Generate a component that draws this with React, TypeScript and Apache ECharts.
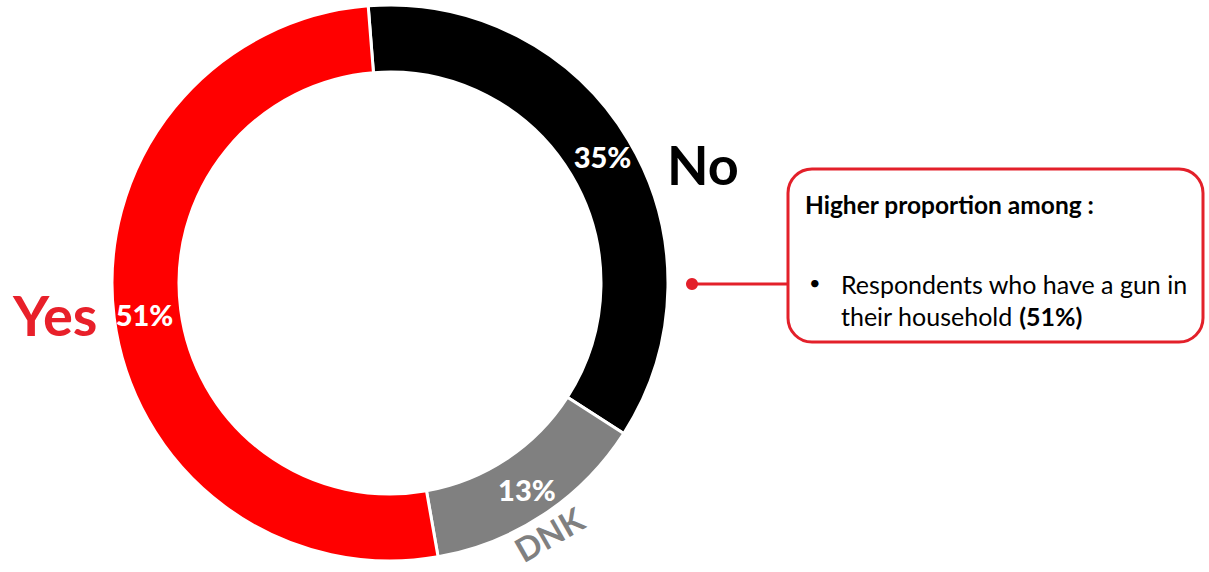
import React, { useEffect, useRef } from "react";
import * as echarts from "echarts";

const categories = ["No", "DNK", "Yes"];
const values = [35, 13, 51];
const sliceColors = ["#000000", "#808080", "#FF0000"];
const nameColors = ["#000000", "#808080", "#E8202A"];
const calloutTitle = "Higher proportion among :";
const calloutLine1 = "Respondents who have a gun in";
const calloutLine2a = "their household ";
const calloutLine2b = "(51%)";

export default function App() {
  const ref = useRef<HTMLDivElement>(null);
  useEffect(() => {
    document.body.style.margin = "0";
    const chart = echarts.init(ref.current!, undefined, { renderer: "svg" });
    const font = "Lato, 'Open Sans', sans-serif";
    const red = "#E3202A";
    chart.setOption({
      animation: false,
      backgroundColor: "#ffffff",
      series: [
        {
          type: "pie",
          center: [390, 283],
          radius: [211, 278],
          startAngle: 94.5,
          clockwise: true,
          silent: true,
          label: {
            show: true,
            position: "inside",
            formatter: "{c}%",
            color: "#ffffff",
            fontWeight: 900,
            fontSize: 29,
            fontFamily: font,
          },
          labelLine: { show: false },
          itemStyle: { borderColor: "#ffffff", borderWidth: 3 },
          data: categories.map((c, i) => ({
            name: c,
            value: values[i],
            itemStyle: { color: sliceColors[i] },
          })),
        },
      ],
      graphic: [
        {
          type: "text",
          x: 667,
          y: 164,
          style: {
            text: categories[0],
            fill: nameColors[0],
            font: `bold 54px ${font}`,
            align: "left",
            verticalAlign: "middle",
          },
        },
        {
          type: "text",
          x: 549,
          y: 534,
          rotation: 0.52,
          style: {
            text: categories[1],
            fill: nameColors[1],
            font: `bold 33px ${font}`,
            align: "center",
            verticalAlign: "middle",
          },
        },
        {
          type: "text",
          x: 13,
          y: 314,
          style: {
            text: categories[2],
            fill: nameColors[2],
            font: `bold 56px ${font}`,
            align: "left",
            verticalAlign: "middle",
          },
        },
        {
          type: "line",
          shape: { x1: 692, y1: 284, x2: 788, y2: 284 },
          style: { stroke: red, lineWidth: 3 },
        },
        {
          type: "circle",
          shape: { cx: 692, cy: 284, r: 6 },
          style: { fill: red },
        },
        {
          type: "rect",
          shape: { x: 788, y: 169, width: 415, height: 173, r: 24 },
          style: { fill: "#ffffff", stroke: red, lineWidth: 3 },
        },
        {
          type: "text",
          x: 805,
          y: 204,
          style: {
            text: calloutTitle,
            fill: "#000000",
            font: `bold 24.5px ${font}`,
            align: "left",
            verticalAlign: "middle",
          },
        },
        {
          type: "text",
          x: 809,
          y: 282,
          style: {
            text: "•",
            fill: "#000000",
            font: `20px ${font}`,
            align: "left",
            verticalAlign: "middle",
          },
        },
        {
          type: "text",
          x: 841,
          y: 284,
          style: {
            text: calloutLine1,
            fill: "#000000",
            font: `25px ${font}`,
            align: "left",
            verticalAlign: "middle",
          },
        },
        {
          type: "text",
          x: 841,
          y: 316,
          style: {
            text: `{a|${calloutLine2a}}{b|${calloutLine2b}}`,
            align: "left",
            verticalAlign: "middle",
            rich: {
              a: { fill: "#000000", fontSize: 25, fontFamily: font },
              b: { fill: "#000000", fontSize: 25, fontFamily: font, fontWeight: "bold" },
            },
          },
        },
      ],
    });
    return () => chart.dispose();
  }, []);
  return <div ref={ref} style={{ width: 1209, height: 572 }} />;
}
